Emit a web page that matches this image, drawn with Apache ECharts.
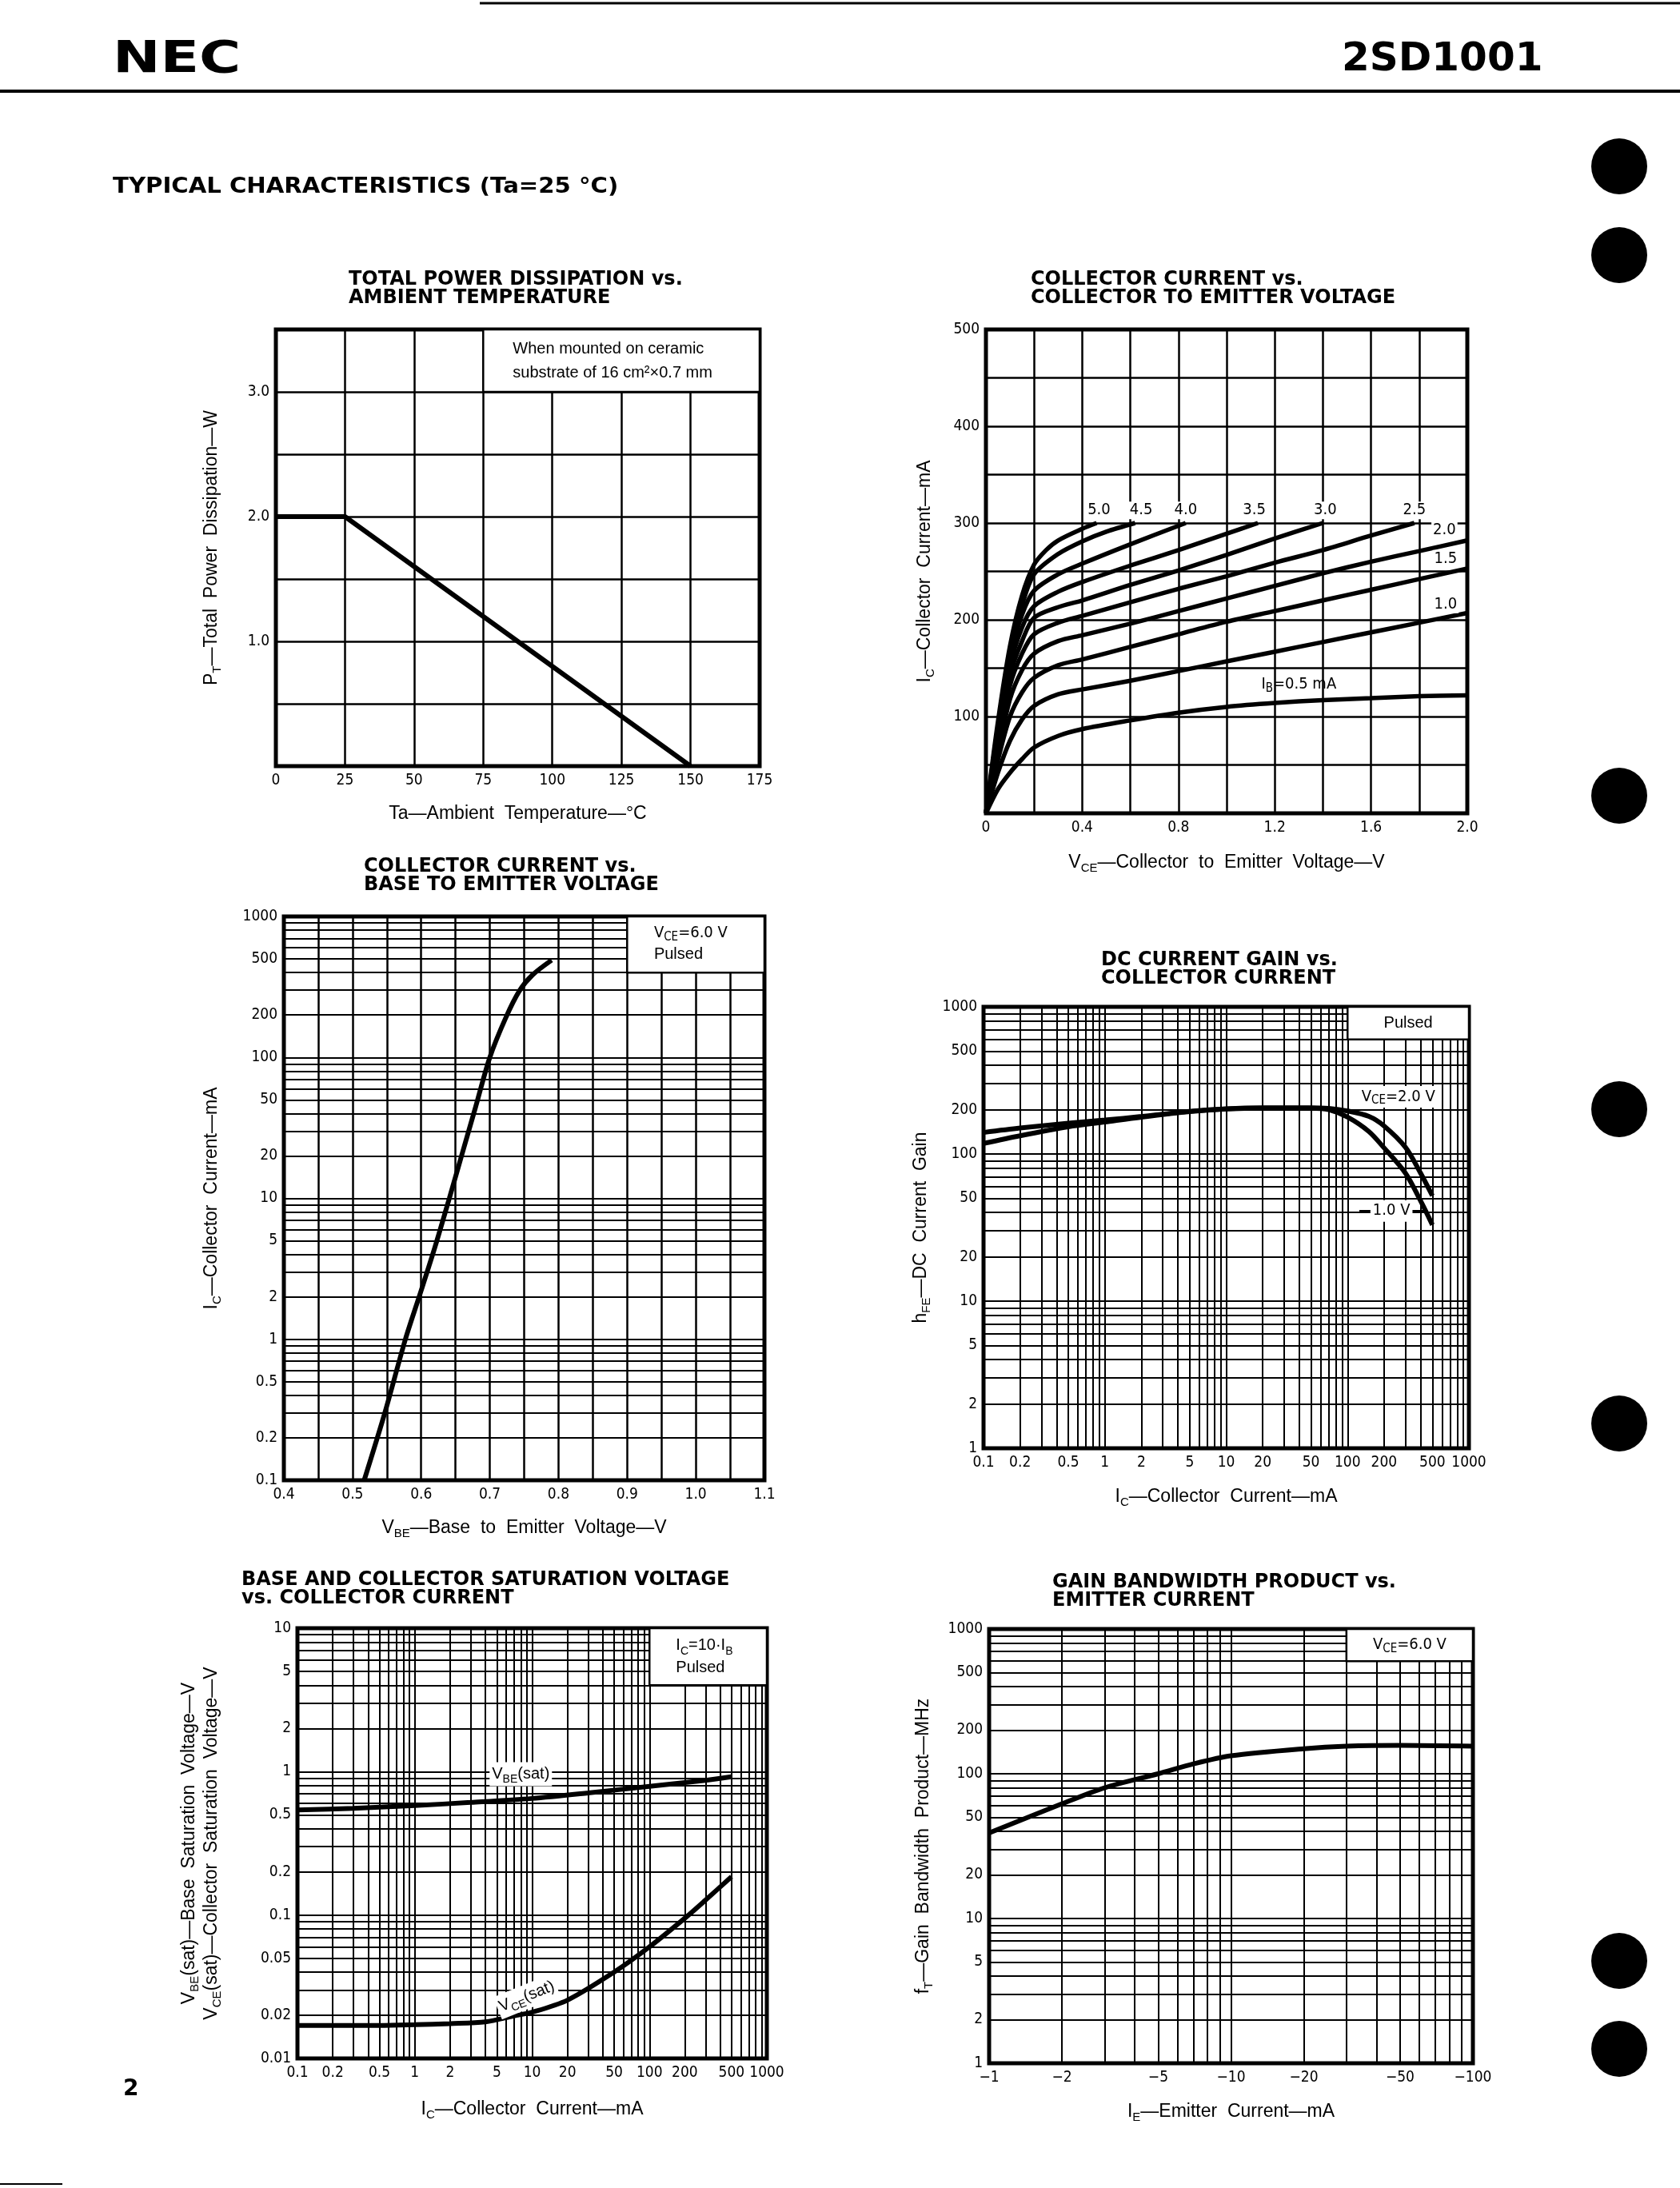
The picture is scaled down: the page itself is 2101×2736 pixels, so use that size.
<!DOCTYPE html>
<html>
<head>
<meta charset="utf-8">
<script src="https://cdn.jsdelivr.net/npm/echarts@6/dist/echarts.min.js"></script>
<style>
html,body{margin:0;padding:0;background:#fff;}
#c{width:2101px;height:2736px;}
</style>
</head>
<body>
<div id="c"></div>
<script>
// ---------------- DATA ----------------
// Chart 1: Total power dissipation vs ambient temperature  [Ta degC, PT W]
const ptCurve = [[0, 2.0], [25, 2.0], [150, 0]];
const ptYLabelValues = [1, 2, 3];

// Chart 2: IC vs VCE for IB = 0.5 ... 5.0 mA   [VCE V, IC mA]
const ibNames = ['0.5', '1.0', '1.5', '2.0', '2.5', '3.0', '3.5', '4.0', '4.5', '5.0'];
const vceIB05 = [[0,0],[0.05,25],[0.1,42],[0.15,56],[0.2,68],[0.3,80],[0.4,87],[0.6,96],[0.8,104],[1.0,110],[1.2,114],[1.4,117],[1.6,119],[1.8,121],[2.0,122]];
const vceIB10 = [[0,0],[0.05,42],[0.1,75],[0.15,97],[0.2,111],[0.3,123],[0.4,128],[0.6,137],[0.8,147],[1.0,157],[1.2,167],[1.4,177],[1.6,187],[1.8,197],[2.0,207]];
const vceIB15 = [[0,0],[0.05,55],[0.1,100],[0.15,125],[0.2,140],[0.3,153],[0.4,159],[0.6,172],[0.8,185],[1.0,198],[1.2,209],[1.4,220],[1.6,231],[1.8,242],[2.0,253]];
const vceIB20 = [[0,0],[0.05,62],[0.1,118],[0.15,148],[0.2,165],[0.3,178],[0.4,184],[0.6,196],[0.8,209],[1.0,222],[1.2,235],[1.4,248],[1.6,260],[1.8,271],[2.0,282]];
const vceIB25 = [[0,0],[0.05,68],[0.1,132],[0.15,165],[0.2,185],[0.3,197],[0.4,204],[0.6,218],[0.8,232],[1.0,245],[1.2,259],[1.4,272],[1.6,287],[1.78,300]];
const vceIB30 = [[0,0],[0.05,74],[0.1,143],[0.15,178],[0.2,202],[0.3,213],[0.4,220],[0.6,236],[0.8,251],[1.0,267],[1.2,284],[1.4,300]];
const vceIB35 = [[0,0],[0.05,80],[0.1,152],[0.15,192],[0.2,214],[0.3,229],[0.4,239],[0.6,256],[0.8,272],[1.0,289],[1.13,300]];
const vceIB40 = [[0,0],[0.05,85],[0.1,160],[0.15,205],[0.2,230],[0.3,247],[0.4,258],[0.6,278],[0.83,300]];
const vceIB45 = [[0,0],[0.05,90],[0.1,167],[0.15,215],[0.2,247],[0.3,268],[0.4,281],[0.5,291],[0.62,300]];
const vceIB50 = [[0,0],[0.05,95],[0.1,173],[0.15,225],[0.2,257],[0.25,272],[0.3,282],[0.4,294],[0.46,300]];
const icXLabelValues = [0, 0.4, 0.8, 1.2, 1.6, 2.0];
const icYLabelValues = [100, 200, 300, 400, 500];

// Chart 3: IC vs VBE (VCE = 6.0 V)   [VBE V, IC mA]
const vbeCurve = [[0.517,0.1],[0.547,0.3],[0.577,1],[0.597,2],[0.620,4.5],[0.641,10],[0.660,21],[0.679,44],[0.700,100],[0.723,190],[0.743,296],[0.762,384],[0.790,490]];
const vbeXLabelValues = [0.4, 0.5, 0.6, 0.7, 0.8, 0.9, 1.0, 1.1];
const vbeYLabelValues = [0.1, 0.2, 0.5, 1, 2, 5, 10, 20, 50, 100, 200, 500, 1000];

// Chart 4: hFE vs IC   [IC mA, hFE]
const hfeVce2 = [[0.1,140],[0.2,150],[0.5,162],[1,170],[2,180],[5,195],[10,203],[20,206],[50,206],[70,204],[100,196],[150,180],[200,155],[300,111],[400,74],[500,52]];
const hfeVce1 = [[0.1,118],[0.2,133],[0.5,153],[1,165],[2,178],[5,194],[10,202],[20,205],[50,205],[70,200],[100,178],[150,142],[200,110],[300,74],[400,48],[500,33]];
const hfeXLabelValues = [0.1, 0.2, 0.5, 1, 2, 5, 10, 20, 50, 100, 200, 500, 1000];
const hfeYLabelValues = [1, 2, 5, 10, 20, 50, 100, 200, 500, 1000];

// Chart 5: saturation voltages vs IC (IC = 10 IB)   [IC mA, V]
const vbeSat = [[0.1,0.54],[0.3,0.555],[1,0.58],[3,0.61],[10,0.65],[30,0.71],[100,0.79],[300,0.87],[500,0.92]];
const vceSat = [[0.1,0.017],[0.5,0.017],[1,0.0172],[2,0.0175],[4,0.018],[7,0.0198],[10,0.021],[20,0.0255],[50,0.040],[100,0.060],[200,0.095],[300,0.127],[500,0.185]];
const satXLabelValues = [0.1, 0.2, 0.5, 1, 2, 5, 10, 20, 50, 100, 200, 500, 1000];
const satYLabelValues = [0.01, 0.02, 0.05, 0.1, 0.2, 0.5, 1, 2, 5, 10];

// Chart 6: fT vs emitter current (|IE| mA, IE is negative), VCE = 6.0 V
const ftCurve = [[1,39],[2,62],[3,80],[5,100],[7,117],[10,133],[20,149],[30,155],[50,157],[100,155]];
const ftXLabelValues = [1, 2, 5, 10, 20, 50, 100];
const ftXLabelTexts = ['\u22121', '\u22122', '\u22125', '\u221210', '\u221220', '\u221250', '\u2212100'];
const ftYLabelValues = [1, 2, 5, 10, 20, 50, 100, 200, 500, 1000];

// ---------------- STYLE ----------------
const TICK_FONT = "'Liberation Sans Narrow','DejaVu Sans Condensed','Liberation Sans',sans-serif";
const NAME_FONT = "'Liberation Sans','Noto Sans',sans-serif";
const TITLE_FONT = "'DejaVu Sans',sans-serif";
const TICK_SIZE = 19;

function logGridValues(lo, hi) {
  const out = [];
  const e0 = Math.round(Math.log10(lo)), e1 = Math.round(Math.log10(hi));
  for (let e = e0; e < e1; e++) {
    for (let m = 1; m < 10; m++) out.push(+(m * Math.pow(10, e)).toPrecision(6));
  }
  out.push(hi);
  return out;
}
function fmt(v) { return String(+(+v).toPrecision(4)); }
function near(list, v, eps) { return list.some(a => Math.abs(a - v) < eps); }

const nameRich = {
  n: {fontFamily: NAME_FONT, fontSize: 23, lineHeight: 28, color: '#000'},
  s: {fontFamily: NAME_FONT, fontSize: 15, lineHeight: 15, verticalAlign: 'bottom', color: '#000'}
};
const annRich = {
  n: {fontFamily: NAME_FONT, fontSize: 20, lineHeight: 28, color: '#000'},
  s: {fontFamily: NAME_FONT, fontSize: 14, lineHeight: 14, verticalAlign: 'bottom', color: '#000'},
  t: {fontFamily: TICK_FONT, fontSize: 20, lineHeight: 25, color: '#000'},
  ts: {fontFamily: TICK_FONT, fontSize: 15, lineHeight: 15, verticalAlign: 'bottom', color: '#000'}
};

function tickLabel(extra) {
  return Object.assign({color: '#000', fontFamily: TICK_FONT, fontSize: TICK_SIZE, margin: 8}, extra);
}
function baseAxis(extra, lw) {
  return Object.assign({
    axisLine: {show: false},
    axisTick: {show: false},
    splitLine: {show: true, lineStyle: {color: '#000', width: lw || 2.5}},
    nameLocation: 'middle',
    nameTextStyle: {color: '#000', fontFamily: NAME_FONT, fontSize: 23, rich: nameRich},
    axisLabel: tickLabel({})
  }, extra);
}
function logAxis(gridIndex, min, max, labelValues, formatter, extra) {
  return baseAxis(Object.assign({
    type: 'log', logBase: 10, gridIndex, min, max,
    axisTick: {show: false, customValues: logGridValues(min, max)},
    axisLabel: tickLabel({customValues: labelValues, formatter: formatter || fmt})
  }, extra), 2);
}

const gridBoxes = [
  {left: 345, top: 412, width: 605, height: 546},
  {left: 1233, top: 412, width: 602, height: 605},
  {left: 355, top: 1146, width: 601, height: 705},
  {left: 1230, top: 1259, width: 607, height: 552},
  {left: 372, top: 2036, width: 587, height: 538},
  {left: 1237, top: 2037, width: 605, height: 543}
];

const titleStyle = {fontFamily: TITLE_FONT, fontWeight: 'bold', fontSize: 24, lineHeight: 23, color: '#000'};
const titles = [
  {text: 'TOTAL POWER DISSIPATION vs.\nAMBIENT TEMPERATURE', left: 436, top: 338},
  {text: 'COLLECTOR CURRENT vs.\nCOLLECTOR TO EMITTER VOLTAGE', left: 1289, top: 338},
  {text: 'COLLECTOR CURRENT vs.\nBASE TO EMITTER VOLTAGE', left: 455, top: 1072},
  {text: 'DC CURRENT GAIN vs.\nCOLLECTOR CURRENT', left: 1377, top: 1189},
  {text: 'BASE AND COLLECTOR SATURATION VOLTAGE\nvs. COLLECTOR CURRENT', left: 302, top: 1964},
  {text: 'GAIN BANDWIDTH PRODUCT vs.\nEMITTER CURRENT', left: 1316, top: 1967}
];

const curveLine = (w) => ({color: '#000', width: w || 6});
const boxStyle = {color: '#fff', borderColor: '#000', borderWidth: 2.5, opacity: 1};

const ibSeriesData = [vceIB05, vceIB10, vceIB15, vceIB20, vceIB25, vceIB30, vceIB35, vceIB40, vceIB45, vceIB50];

const chart2Labels = {
  symbol: 'circle', symbolSize: 0, silent: true,
  label: {show: true, position: 'inside', color: '#000', fontFamily: TICK_FONT, fontSize: 20,
    backgroundColor: '#fff', padding: [1, 2], rich: annRich},
  data: [
    {coord: [0.47, 313], label: {formatter: '5.0'}},
    {coord: [0.645, 313], label: {formatter: '4.5'}},
    {coord: [0.83, 313], label: {formatter: '4.0'}},
    {coord: [1.115, 313], label: {formatter: '3.5'}},
    {coord: [1.41, 313], label: {formatter: '3.0'}},
    {coord: [1.78, 313], label: {formatter: '2.5'}},
    {coord: [1.905, 293], label: {formatter: '2.0'}},
    {coord: [1.91, 263], label: {formatter: '1.5'}},
    {coord: [1.91, 216], label: {formatter: '1.0'}},
    {coord: [1.30, 133], label: {formatter: '{t|I}{ts|B}{t|=0.5 mA}', backgroundColor: 'transparent'}}
  ]
};

const series = [];
// Chart 1
series.push({
  type: 'line', xAxisIndex: 0, yAxisIndex: 0, data: ptCurve, symbol: 'none', smooth: false,
  lineStyle: curveLine(6), silent: true,
  markArea: {silent: true, itemStyle: boxStyle,
    label: {show: true, position: ['11%', '50%'], align: 'left', verticalAlign: 'middle',
      color: '#000', fontFamily: NAME_FONT, fontSize: 20, lineHeight: 30,
      formatter: 'When mounted on ceramic\nsubstrate of 16 cm\u00B2\u00D70.7 mm'},
    data: [[{coord: [75, 3.0]}, {coord: [175, 3.5]}]]}
});
// Chart 2
ibSeriesData.forEach((d, i) => {
  const s = {type: 'line', name: 'IB=' + ibNames[i] + ' mA', xAxisIndex: 1, yAxisIndex: 1, data: d,
    symbol: 'none', smooth: 0.3, lineStyle: curveLine(5.5), silent: true};
  if (i === 0) s.markPoint = chart2Labels;
  series.push(s);
});
// Chart 3
series.push({
  type: 'line', xAxisIndex: 2, yAxisIndex: 2, data: vbeCurve, symbol: 'none', smooth: 0.3,
  lineStyle: curveLine(6), silent: true,
  markArea: {silent: true, itemStyle: boxStyle,
    label: {show: true, position: ['20%', '50%'], align: 'left', verticalAlign: 'middle', rich: annRich,
      formatter: '{t|V}{ts|CE}{t|=6.0 V}\n{n|Pulsed}'},
    data: [[{coord: [0.9, 400]}, {coord: [1.1, 1000]}]]}
});
// Chart 4
series.push({
  type: 'line', name: 'VCE=2.0 V', xAxisIndex: 3, yAxisIndex: 3, data: hfeVce2, symbol: 'none', smooth: 0.3,
  lineStyle: curveLine(6), silent: true,
  markArea: {silent: true, itemStyle: boxStyle,
    label: {show: true, position: 'inside', rich: annRich, formatter: '{n|Pulsed}'},
    data: [[{coord: [100, 600]}, {coord: [1000, 1000]}]]},
  markLine: {silent: true, symbol: ['none', 'none'], lineStyle: {color: '#000', width: 2, type: 'solid'},
    label: {show: false}, data: [[{coord: [125, 41]}, {coord: [430, 41]}]]},
  markPoint: {symbol: 'circle', symbolSize: 0, silent: true,
    label: {show: true, position: 'inside', backgroundColor: '#fff', padding: [1, 3], rich: annRich},
    data: [
      {coord: [262, 245], label: {formatter: '{t|V}{ts|CE}{t|=2.0 V}'}},
      {coord: [230, 41], label: {formatter: '{t|1.0 V}'}}
    ]}
});
series.push({
  type: 'line', name: 'VCE=1.0 V', xAxisIndex: 3, yAxisIndex: 3, data: hfeVce1, symbol: 'none', smooth: 0.3,
  lineStyle: curveLine(6), silent: true
});
// Chart 5
series.push({
  type: 'line', name: 'VBE(sat)', xAxisIndex: 4, yAxisIndex: 4, data: vbeSat, symbol: 'none', smooth: 0.3,
  lineStyle: curveLine(6), silent: true,
  markArea: {silent: true, itemStyle: boxStyle,
    label: {show: true, position: ['23%', '50%'], align: 'left', verticalAlign: 'middle', rich: annRich,
      formatter: '{n|I}{s|C}{n|=10\u00B7I}{s|B}\n{n|Pulsed}'},
    data: [[{coord: [100, 4]}, {coord: [1000, 10]}]]},
  markPoint: {symbol: 'circle', symbolSize: 0, silent: true,
    label: {show: true, position: 'inside', backgroundColor: '#fff', padding: [1, 3], rich: annRich},
    data: [
      {coord: [8, 0.96], label: {formatter: '{n|V}{s|BE}{n|(sat)}'}},
      {coord: [9, 0.027], label: {formatter: '{n|V}{s|CE}{n|(sat)}', rotate: 22}}
    ]}
});
series.push({
  type: 'line', name: 'VCE(sat)', xAxisIndex: 4, yAxisIndex: 4, data: vceSat, symbol: 'none', smooth: 0.3,
  lineStyle: curveLine(6), silent: true
});
// Chart 6
series.push({
  type: 'line', xAxisIndex: 5, yAxisIndex: 5, data: ftCurve, symbol: 'none', smooth: 0.3,
  lineStyle: curveLine(6), silent: true,
  markArea: {silent: true, itemStyle: boxStyle,
    label: {show: true, position: 'inside', rich: annRich, formatter: '{t|V}{ts|CE}{t|=6.0 V}'},
    data: [[{coord: [30, 600]}, {coord: [100, 1000]}]]}
});

const xAxes = [
  baseAxis({type: 'value', gridIndex: 0, min: 0, max: 175, interval: 25,
    axisLabel: tickLabel({margin: 9, formatter: v => String(Math.round(v))}),
    name: '{n|Ta\u2014Ambient  Temperature\u2014\u00B0C}', nameGap: 46}),
  baseAxis({type: 'value', gridIndex: 1, min: 0, max: 2.0, interval: 0.2,
    axisLabel: tickLabel({margin: 9,
      formatter: v => { const r = Math.round(v * 10) / 10; return near(icXLabelValues, r, 1e-6) ? (r === 0 ? '0' : r.toFixed(1)) : ''; }}),
    name: '{n|V}{s|CE}{n|\u2014Collector  to  Emitter  Voltage\u2014V}', nameGap: 48}),
  baseAxis({type: 'value', gridIndex: 2, min: 0.4, max: 1.1, interval: 0.05,
    axisLabel: tickLabel({margin: 9,
      formatter: v => { const r = Math.round(v * 100) / 100; return near(vbeXLabelValues, r, 1e-6) ? r.toFixed(1) : ''; }}),
    name: '{n|V}{s|BE}{n|\u2014Base  to  Emitter  Voltage\u2014V}', nameGap: 46}),
  logAxis(3, 0.1, 1000, hfeXLabelValues, null, {name: '{n|I}{s|C}{n|\u2014Collector  Current\u2014mA}', nameGap: 47}),
  logAxis(4, 0.1, 1000, satXLabelValues, null, {name: '{n|I}{s|C}{n|\u2014Collector  Current\u2014mA}', nameGap: 50}),
  logAxis(5, 1, 100, ftXLabelValues,
    v => { const i = ftXLabelValues.findIndex(a => Math.abs(a - v) < 1e-6); return i >= 0 ? ftXLabelTexts[i] : ''; },
    {name: '{n|I}{s|E}{n|\u2014Emitter  Current\u2014mA}', nameGap: 47})
];
xAxes.forEach(a => a.axisLabel.margin = 9);

const yAxes = [
  baseAxis({type: 'value', gridIndex: 0, min: 0, max: 3.5, interval: 0.5,
    axisLabel: tickLabel({formatter: v => near(ptYLabelValues, v, 1e-6) ? v.toFixed(1) : ''}),
    name: '{n|P}{s|T}{n|\u2014Total  Power  Dissipation\u2014W}', nameGap: 66}),
  baseAxis({type: 'value', gridIndex: 1, min: 0, max: 500, interval: 50,
    axisLabel: tickLabel({formatter: v => near(icYLabelValues, v, 1e-6) ? String(Math.round(v)) : ''}),
    name: '{n|I}{s|C}{n|\u2014Collector  Current\u2014mA}', nameGap: 62}),
  logAxis(2, 0.1, 1000, vbeYLabelValues, null, {name: '{n|I}{s|C}{n|\u2014Collector  Current\u2014mA}', nameGap: 76}),
  logAxis(3, 1, 1000, hfeYLabelValues, null, {name: '{n|h}{s|FE}{n|\u2014DC  Current  Gain}', nameGap: 64}),
  logAxis(4, 0.01, 10, satYLabelValues, null,
    {name: '{n|V}{s|BE}{n|(sat)\u2014Base  Saturation  Voltage\u2014V}\n{n|V}{s|CE}{n|(sat)\u2014Collector  Saturation  Voltage\u2014V}', nameGap: 93}),
  logAxis(5, 1, 1000, ftYLabelValues, null, {name: '{n|f}{s|T}{n|\u2014Gain  Bandwidth  Product\u2014MHz}', nameGap: 68})
];

const holeYs = [208, 319, 995, 1387, 1780, 2452, 2562];

const graphic = [
  {type: 'line', shape: {x1: 600, y1: 4, x2: 2101, y2: 4}, style: {stroke: '#000', lineWidth: 3}},
  {type: 'line', shape: {x1: 0, y1: 114, x2: 2101, y2: 114}, style: {stroke: '#000', lineWidth: 4}},
  {type: 'line', shape: {x1: 0, y1: 2731, x2: 78, y2: 2731}, style: {stroke: '#000', lineWidth: 2}},
  {type: 'text', x: 141, y: 75, scaleX: 1.27, style: {text: 'NEC', font: "bold 56px 'DejaVu Sans'", fill: '#000', verticalAlign: 'middle', align: 'left'}},
  {type: 'text', x: 1678, y: 75, style: {text: '2SD1001', font: "bold 50px 'DejaVu Sans'", fill: '#000', verticalAlign: 'middle', align: 'left'}},
  {type: 'text', x: 141, y: 234, scaleX: 1.08, style: {text: 'TYPICAL CHARACTERISTICS (Ta=25 \u00B0C)', font: "bold 27px 'DejaVu Sans'", fill: '#000', verticalAlign: 'middle', align: 'left'}},
  {type: 'text', x: 154, y: 2613, style: {text: '2', font: "bold 28px 'DejaVu Sans'", fill: '#000', verticalAlign: 'middle', align: 'left'}}
].concat(holeYs.map(y => ({type: 'circle', shape: {cx: 2025, cy: y, r: 35}, style: {fill: '#000'}})));

const option = {
  backgroundColor: '#fff',
  animation: false,
  textStyle: {fontFamily: NAME_FONT, color: '#000'},
  title: titles.map(t => Object.assign({padding: 0, textStyle: titleStyle}, t)),
  grid: gridBoxes.map(g => Object.assign({show: true, borderColor: '#000', borderWidth: 5,
    backgroundColor: 'rgba(0,0,0,0)', containLabel: false, outerBoundsMode: 'none'}, g)),
  xAxis: xAxes,
  yAxis: yAxes,
  series: series,
  graphic: graphic
};

const chart = echarts.init(document.getElementById('c'), null, {renderer: 'canvas', width: 2101, height: 2736});
chart.setOption(option);
</script>
</body>
</html>
